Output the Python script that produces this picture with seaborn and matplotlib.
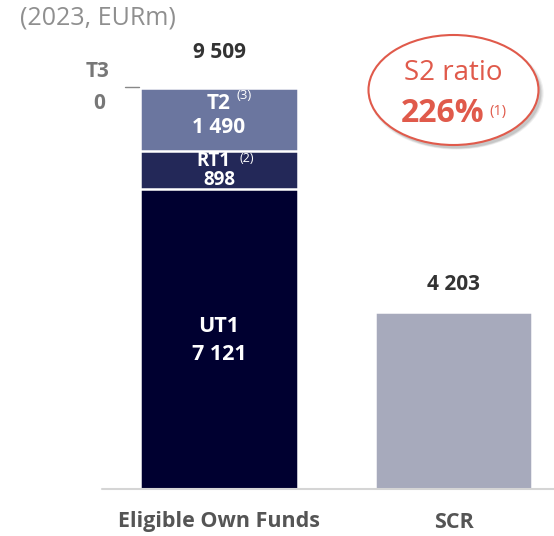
import pandas as pd
import seaborn as sns
import matplotlib.pyplot as plt
from matplotlib.patches import Ellipse

# data
categories = ["Eligible Own Funds", "SCR"]
ut1 = 7121
rt1 = 898
t2 = 1490
t3 = 0
scr = 4203
total_eof = ut1 + rt1 + t2 + t3
s2_ratio = "226%"

col_ut1 = "#000030"
col_rt1 = "#232858"
col_t2 = "#6b769f"
col_scr = "#a7aabc"
red = "#e05a4b"

sns.set_theme(style="white")
plt.rcParams["font.family"] = ["Open Sans", "DejaVu Sans"]

fig = plt.figure(figsize=(5.54, 5.36), dpi=100)
ax = fig.add_axes([102 / 554, 1 - 489 / 536, 1 - 102 / 554, 489 / 536])

# stacked bar drawn as overlaid cumulative bars
layers = [
    ([total_eof, scr], [col_t2, col_scr]),
    ([ut1 + rt1, 0], [col_rt1, col_scr]),
    ([ut1, 0], [col_ut1, col_scr]),
]
for vals, cols in layers:
    df = pd.DataFrame({"cat": categories, "val": vals})
    sns.barplot(data=df, x="cat", y="val", hue="cat", order=categories,
                palette=dict(zip(categories, cols)), legend=False,
                saturation=1, width=0.67, edgecolor="white", linewidth=1.8,
                ax=ax)

ax.set_xlim(-0.499, 1.4286)
ax.set_ylim(0, 489 / 0.04217)
for s in ax.spines.values():
    s.set_visible(False)
ax.set_xticks([])
ax.set_yticks([])
ax.set_xlabel("")
ax.set_ylabel("")
ax.axhline(0, color="#d5d5d5", lw=1.5, clip_on=False)

dark = "#333333"
fs = 15
# totals
ax.text(0, total_eof + 850, "9 509", ha="center", va="center", fontsize=fs,
        fontweight="bold", color=dark)
ax.text(1, scr + 640, f"{scr:,}".replace(",", " "), ha="center", va="center",
        fontsize=fs, fontweight="bold", color=dark)

# segment labels
ax.text(0, 3865, "UT1", ha="center", va="center", fontsize=fs + 0.5,
        fontweight="bold", color="white")
ax.text(0, 3178, "7 121", ha="center", va="center", fontsize=fs + 0.5,
        fontweight="bold", color="white")
ax.text(-0.026, ut1 + rt1 * 0.6, "RT1", ha="center", va="baseline",
        fontsize=13.5, fontweight="bold", color="white")
ax.text(0.12, ut1 + rt1 * 0.7, "(2)", ha="center", va="baseline", fontsize=9,
        color="white")
ax.text(0, ut1 + rt1 * 0.1, "898", ha="center", va="baseline", fontsize=13.5,
        fontweight="bold", color="white")
ax.text(0, total_eof - 356, "T2", ha="center", va="center", fontsize=fs,
        fontweight="bold", color="white")
ax.text(0.105, total_eof - 166, "(3)", ha="center", va="center", fontsize=9.5,
        color="white")
ax.text(0, total_eof - 948, "1 490", ha="center", va="center", fontsize=fs,
        fontweight="bold", color="white")

# T3 annotation
ax.text(-0.52, total_eof + 380, "T3", ha="center", va="center", fontsize=fs,
        fontweight="bold", color="#777777", clip_on=False)
ax.text(-0.51, total_eof - 356, str(t3), ha="center", va="center",
        fontsize=fs, fontweight="bold", color="#777777", clip_on=False)
ax.plot([-0.40, -0.34], [total_eof + 20, total_eof + 20], color="#888888",
        lw=1, clip_on=False)

# ellipse callout with shadow
ex, ey, ew, eh = 1.0, (489 - 90) / 0.04217, 0.725, 110 / 0.04217
for i, a in enumerate([0.06, 0.08, 0.1]):
    ax.add_patch(Ellipse((ex + 0.012, ey - 80), ew + 0.02 - i * 0.01,
                         eh + 60 - i * 30, facecolor="#000000", alpha=a,
                         lw=0))
ax.add_patch(Ellipse((ex, ey), ew, eh, facecolor="white", edgecolor=red,
                     lw=1.5))
ax.text(ex, ey + 400, "S2 ratio", ha="center", va="center", fontsize=20,
        color=red)
ax.text(ex - 0.045, ey - 560, s2_ratio, ha="center", va="center", fontsize=23,
        fontweight="bold", color=red)
ax.text(ex + 0.19, ey - 520, "(1)", ha="center", va="center", fontsize=10.5,
        color=red)

# category labels and unit
for i, c in enumerate(categories):
    ax.text(i, -33 / 0.04217, c, ha="center", va="center", fontsize=15.5,
            fontweight="bold", color="#555555", clip_on=False)
fig.text(20 / 554, 1 - 18 / 536, "(2023, EURm)", ha="left", va="center",
         fontsize=18, color="#8f8f8f")

fig.savefig("out.png", dpi=100)
